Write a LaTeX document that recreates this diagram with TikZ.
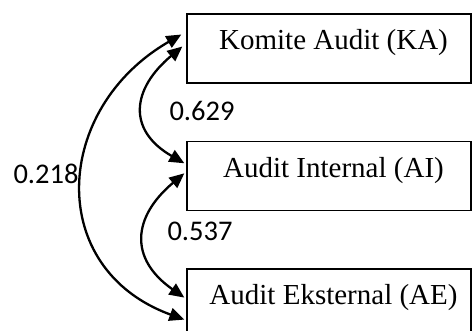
\documentclass[tikz,border=0pt]{standalone}
\usepackage{fontspec}
\setmainfont{Liberation Serif}
\newfontfamily\numfont{Carlito}
\usetikzlibrary{positioning, arrows.meta}
\tikzstyle{varbox} = [
    rectangle, draw=black, line width=1.3pt, fill=white,
    minimum width=284pt, minimum height=69pt, inner sep=0pt,
    text height=20pt, text depth=18pt,
    font=\fontsize{29}{34}\selectfont,
    execute at begin node={\hspace*{9pt}},
]
\tikzstyle{corr} = [line width=2.3pt, {Triangle[length=15pt,width=13pt]}-{Triangle[length=15pt,width=13pt]}]
\tikzstyle{coef} = [inner sep=0pt, font=\numfont\fontsize{28.5}{33}\selectfont]

\begin{document}
\begin{tikzpicture}[x=1pt, y=-1pt]
    \useasboundingbox (0,0) rectangle (473,331);

    % variable boxes
    \node[varbox] (komite) at (329,48.5) {Komite Audit (KA)};
    \node[varbox] (internal) [below=57.5pt of komite] {Audit Internal (AI)};
    \node[varbox] (eksternal) [below=57pt of internal] {Audit Eksternal (AE)};

    % arrow ends
    \coordinate[left=5pt of komite.west, yshift=14pt] (komite_out);
    \coordinate[left=4pt of komite.west, yshift=2pt] (komite_in);
    \coordinate[left=2pt of internal.west, yshift=13pt] (internal_top);
    \coordinate[left=2pt of internal.west, yshift=3pt] (internal_bot);
    \coordinate[left=2pt of eksternal.west, yshift=6pt] (eksternal_in);
    \coordinate[left=2pt of eksternal.west, yshift=-16pt] (eksternal_out);

    % correlations
    \draw[corr] (komite_in) to[out=220, in=150, looseness=1.45] (internal_top);
    \draw[corr] (internal_bot) to[out=220, in=145, looseness=1.4] (eksternal_in);
    \draw[corr] (komite_out) to[out=210, in=160, looseness=1.33] (eksternal_out);

    % coefficients
    \node[coef] (r_ka_ai) at (202,111) {0.629};
    \node[coef] (r_ai_ae) at (200,231) {0.537};
    \node[coef] (r_ka_ae) at (46,174) {0.218};
\end{tikzpicture}
\end{document}
